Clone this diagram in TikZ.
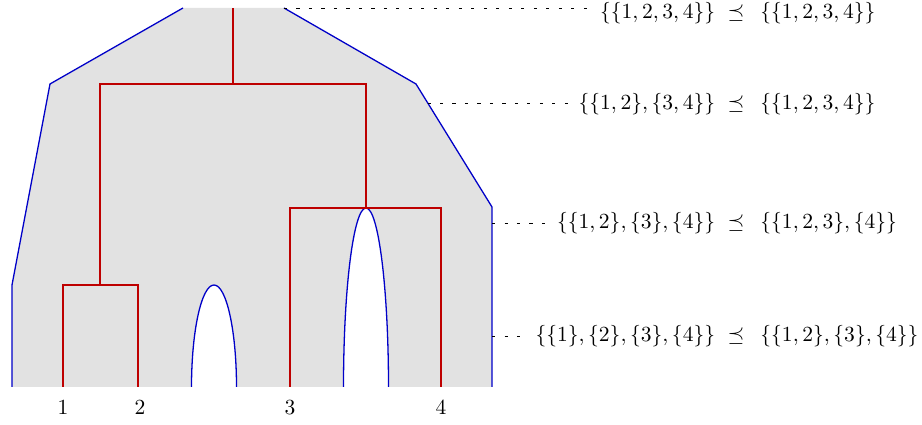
\documentclass[tikz,border=0pt]{standalone}
\definecolor{gfill}{RGB}{226,226,226}
\definecolor{bblue}{RGB}{0,0,200}
\definecolor{rred}{RGB}{190,0,0}
\begin{document}
\begin{tikzpicture}[x=0.01631cm,y=-0.01631cm,
  bound/.style={draw=bblue, line width=0.6pt},
  treeline/.style={draw=rred, line width=1pt},
  guide/.style={line width=0.5pt, dash pattern=on 1.4pt off 4.4pt, shorten >=4pt},
  lpart/.style={inner sep=0pt, anchor=east},
  rpart/.style={inner sep=0pt, anchor=west},
  rel/.style={inner sep=0pt, anchor=center},
  leaflab/.style={inner sep=0pt, anchor=center}]
\useasboundingbox (0,0) rectangle (922,425);

% shaded region with two holes
\fill[gfill] (12,387) -- (12,285) -- (50,84) -- (183,8) -- (284,8) -- (416,84) -- (492,207) -- (492,387)
  -- (388.5,387) .. controls (388.5,288.2) and (378.4,208) .. (366,208)
  .. controls (353.6,208) and (343.5,288.2) .. (343.5,387)
  -- (236.5,387) .. controls (236.5,330.7) and (226.4,285) .. (214,285)
  .. controls (201.6,285) and (191.5,330.7) .. (191.5,387) -- cycle;

% blue boundaries
\draw[bound] (12,387) -- (12,285) -- (50,84) -- (183,8);
\draw[bound] (284,8) -- (416,84) -- (492,207) -- (492,387);
\draw[bound] (388.5,387) .. controls (388.5,288.2) and (378.4,208) .. (366,208)
  .. controls (353.6,208) and (343.5,288.2) .. (343.5,387);
\draw[bound] (236.5,387) .. controls (236.5,330.7) and (226.4,285) .. (214,285)
  .. controls (201.6,285) and (191.5,330.7) .. (191.5,387);

% tree coordinates
\coordinate (l1) at (63,387);
\coordinate (l2) at (138,387);
\coordinate (l3) at (290,387);
\coordinate (l4) at (441,387);
\coordinate (v12) at (100,285);
\coordinate (v34) at (366,208);
\coordinate (vroot) at (233,84);
\coordinate (vtop) at (233,8);

% red dendrogram
\draw[treeline] (l1) |- (v12) -| (l2);
\draw[treeline] (l3) |- (v34) -| (l4);
\draw[treeline] (v12) |- (vroot) -| (v34);
\draw[treeline] (vroot) -- (vtop);

% leaf labels
\node[leaflab] (n1) at (63,408) {$1$};
\node[leaflab] (n2) at (140,408) {$2$};
\node[leaflab] (n3) at (290,408) {$3$};
\node[leaflab] (n4) at (441,408) {$4$};

% right-hand labels
\coordinate (s1) at (284,8.5);
\coordinate (s2) at (427.5,103.5);
\coordinate (s3) at (492,223.5);
\coordinate (s4) at (492,336.5);

\node[lpart] (a1) at (715.5,13.5) {$\{\{1,2,3,4\}\}$};
\node[rel]   (p1) at (736,13.5) {$\preceq$};
\node[rpart] (b1) at (760,13.5) {$\{\{1,2,3,4\}\}$};

\node[lpart] (a2) at (715.5,104) {$\{\{1,2\},\{3,4\}\}$};
\node[rel]   (p2) at (736,104) {$\preceq$};
\node[rpart] (b2) at (760,104) {$\{\{1,2,3,4\}\}$};

\node[lpart] (a3) at (715.5,223.5) {$\{\{1,2\},\{3\},\{4\}\}$};
\node[rel]   (p3) at (736,223.5) {$\preceq$};
\node[rpart] (b3) at (760,223.5) {$\{\{1,2,3\},\{4\}\}$};

\node[lpart] (a4) at (715.5,336.5) {$\{\{1\},\{2\},\{3\},\{4\}\}$};
\node[rel]   (p4) at (736,336.5) {$\preceq$};
\node[rpart] (b4) at (760,336.5) {$\{\{1,2\},\{3\},\{4\}\}$};

\draw[guide] (s1) -- (s1 -| a1.west);
\draw[guide] (s2) -- (s2 -| a2.west);
\draw[guide] (s3) -- (s3 -| a3.west);
\draw[guide] (s4) -- (s4 -| a4.west);
\end{tikzpicture}
\end{document}
